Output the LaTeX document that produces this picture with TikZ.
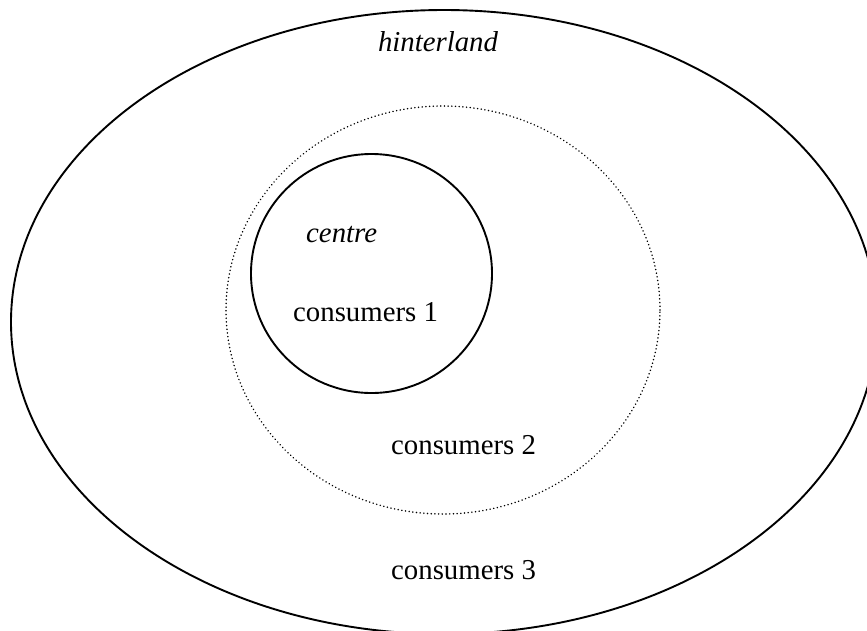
\documentclass[tikz,border=0pt]{standalone}
\usepackage{fontspec}
\setmainfont{Liberation Serif}
\usetikzlibrary{positioning}

\begin{document}
\begin{tikzpicture}[line cap=round,line join=round,x=1pt,y=1pt,
  ring/.style={line width=1.9pt},
  dotring/.style={line width=1.6pt,dash pattern=on 0.1pt off 3.6pt},
  lbl/.style={inner sep=0pt,font=\fontsize{28.8}{34}\selectfont}]
\useasboundingbox (0,0) rectangle (867,-630);
\clip (0,0) rectangle (867,-630);
%%%rings
\draw [ring] (444,-322) ellipse (433 and 312);%hinterland
\draw [dotring] (443,-310) ellipse (217 and 204);%consumers 2
\draw [ring] (371.5,-273.5) ellipse (120.5 and 119.5);%centre
%labels
    \node[lbl] at (438, -42)   (hinter) {\itshape hinterland};
    \node[lbl,anchor=west] at (306, -235)   (centre) {\itshape centre};
    \node[lbl,anchor=west] at (293, -312)   (cons1) {consumers 1};
    \node[lbl,anchor=west] at (391, -445)   (cons2) {consumers 2};
    \node[lbl,anchor=west] at (391, -570)   (cons3) {consumers 3};
\end{tikzpicture}
\end{document}
